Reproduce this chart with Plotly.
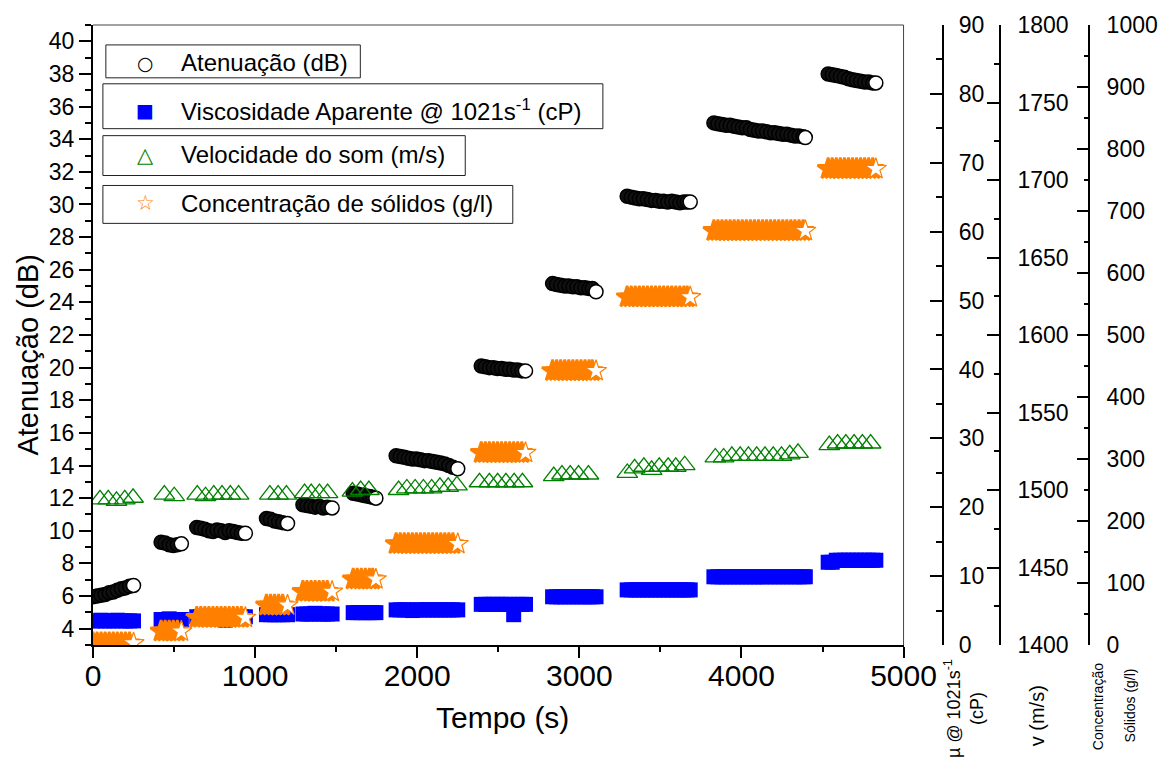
import plotly.graph_objects as go

# ---------------- data ----------------
# shared time stamps (s) of the attenuation / viscosity / concentration records
tempo = [
    0, 25, 50, 75, 100, 125, 150, 175, 200, 225, 250,
    420, 445, 470, 495, 520, 545,
    640, 665, 690, 715, 740, 765, 790, 815, 840, 865, 890, 915, 940,
    1070, 1095, 1120, 1145, 1170, 1200,
    1295, 1320, 1345, 1370, 1395, 1420, 1445, 1475,
    1605, 1630, 1655, 1680, 1705, 1725, 1745,
    1870, 1895, 1920, 1945, 1970, 1995, 2020, 2045, 2070, 2095, 2120, 2145, 2170, 2195, 2220, 2250,
    2395, 2420, 2445, 2470, 2495, 2520, 2545, 2570, 2595, 2620, 2645, 2668,
    2835, 2860, 2885, 2910, 2935, 2960, 2985, 3010, 3035, 3060, 3080, 3103,
    3295, 3320, 3345, 3370, 3395, 3420, 3445, 3470, 3495, 3520, 3545, 3570, 3595, 3620, 3645, 3665, 3684,
    3830, 3855, 3880, 3905, 3930, 3955, 3980, 4005, 4030, 4055, 4080, 4105, 4130, 4155, 4180, 4205,
    4230, 4255, 4280, 4305, 4330, 4355, 4380, 4394,
    4535, 4560, 4585, 4610, 4635, 4660, 4685, 4710, 4735, 4760, 4785, 4810, 4829,
]

atenuacao = [
    5.95, 6.0, 6.05, 6.1, 6.2, 6.25, 6.35, 6.45, 6.5, 6.6, 6.65,
    9.3, 9.25, 9.15, 9.1, 9.15, 9.2,
    10.2, 10.15, 10.1, 10.0, 9.95, 10.05, 10.0, 9.9, 10.0, 9.95, 9.9, 9.85, 9.85,
    10.75, 10.7, 10.6, 10.55, 10.5, 10.45,
    11.6, 11.55, 11.5, 11.45, 11.5, 11.4, 11.45, 11.4,
    12.3, 12.25, 12.2, 12.15, 12.1, 12.05, 12.0,
    14.6, 14.55, 14.5, 14.45, 14.4, 14.4, 14.35, 14.3, 14.3, 14.25, 14.2, 14.15, 14.1, 14.0, 13.9, 13.8,
    20.1, 20.05, 20.0, 20.0, 19.95, 19.95, 19.9, 19.9, 19.85, 19.85, 19.8, 19.8,
    25.15, 25.1, 25.05, 25.0, 25.0, 24.95, 24.95, 24.9, 24.9, 24.85, 24.85, 24.65,
    30.5, 30.45, 30.4, 30.35, 30.35, 30.3, 30.25, 30.25, 30.2, 30.2, 30.15, 30.2, 30.15, 30.1, 30.15, 30.15, 30.15,
    35.0, 34.95, 34.9, 34.85, 34.85, 34.8, 34.75, 34.7, 34.7, 34.6, 34.55, 34.5, 34.5, 34.45, 34.4, 34.4,
    34.35, 34.3, 34.3, 34.25, 34.2, 34.2, 34.15, 34.1,
    38.0, 37.95, 37.9, 37.85, 37.8, 37.7, 37.65, 37.6, 37.55, 37.5, 37.5, 37.45, 37.45,
]

viscosidade = [
    3.5, 3.5, 3.6, 3.5, 3.5, 3.5, 3.6, 3.5, 3.5, 3.5, 3.5,
    3.7, 3.7, 3.8, 3.7, 3.7, 3.7,
    4.1, 4.1, 4.2, 4.1, 4.1, 4.2, 4.1, 3.6, 4.1, 4.1, 4.1, 4.1, 4.1,
    4.4, 4.4, 4.4, 4.4, 4.4, 4.4,
    4.5, 4.5, 4.5, 4.6, 4.5, 4.5, 4.5, 4.5,
    4.7, 4.7, 4.7, 4.7, 4.7, 4.7, 4.7,
    5.1, 5.1, 5.1, 5.1, 5.0, 5.1, 5.1, 5.1, 5.1, 5.1, 5.1, 5.1, 5.1, 5.1, 5.1, 5.1,
    5.9, 5.9, 5.9, 5.9, 5.9, 5.9, 5.9, 5.9, 4.4, 5.9, 5.9, 5.9,
    7.0, 7.0, 7.0, 7.0, 7.0, 7.0, 7.0, 7.0, 7.0, 7.0, 7.0, 7.0,
    8.0, 8.0, 8.0, 8.0, 8.0, 8.0, 8.0, 8.0, 8.0, 8.0, 8.0, 8.0, 8.0, 8.0, 8.0, 8.0, 8.0,
    9.9, 9.9, 9.9, 9.9, 9.9, 9.9, 9.9, 9.9, 9.9, 9.9, 9.9, 9.9, 9.9, 9.9, 9.9, 9.9,
    9.9, 9.9, 9.9, 9.9, 9.9, 9.9, 9.9, 9.9,
    12.0, 12.0, 12.3, 12.3, 12.3, 12.3, 12.3, 12.3, 12.3, 12.3, 12.3, 12.3, 12.3,
]

concentracao = [
    3, 3, 3, 3, 3, 3, 3, 3, 3, 3, 3,
    22, 22, 22, 22, 22, 22,
    44, 44, 44, 44, 44, 44, 44, 44, 44, 44, 44, 44, 44,
    64, 64, 64, 64, 64, 64,
    86, 86, 86, 86, 86, 86, 86, 86,
    106, 106, 106, 106, 106, 106, 106,
    163, 163, 163, 163, 163, 163, 163, 163, 163, 163, 163, 163, 163, 163, 163, 163,
    310, 310, 310, 310, 310, 310, 310, 310, 310, 310, 310, 310,
    442, 442, 442, 442, 442, 442, 442, 442, 442, 442, 442, 442,
    561, 561, 561, 561, 561, 561, 561, 561, 561, 561, 561, 561, 561, 561, 561, 561, 561,
    668, 668, 668, 668, 668, 668, 668, 668, 668, 668, 668, 668, 668, 668, 668, 668,
    668, 668, 668, 668, 668, 668, 668, 668,
    768, 768, 768, 768, 768, 768, 768, 768, 768, 768, 768, 768, 768,
]

# sound-speed records (sparser sampling)
tempo_som = [
    43, 94, 145, 196, 247,
    440, 501,
    643, 694, 745, 796, 847, 898,
    1091, 1142, 1193,
    1305, 1346, 1397, 1447,
    1600, 1651, 1702,
    1885, 1936, 1987, 2038, 2089, 2140, 2191, 2245,
    2384, 2445, 2496, 2547, 2598, 2649,
    2842, 2893, 2944, 2995, 3056,
    3296, 3341, 3398, 3446, 3493, 3548, 3595, 3650,
    3839, 3890, 3941, 3992, 4043, 4094, 4145, 4196, 4247, 4298, 4349,
    4542, 4593, 4644, 4695, 4746, 4797,
]
velocidade_som = [
    1494, 1494, 1493, 1494, 1495,
    1497, 1496,
    1497, 1496, 1497, 1497, 1497, 1497,
    1497, 1497, 1497,
    1498, 1498, 1498, 1498,
    1499, 1500, 1500,
    1500, 1501, 1501, 1501, 1501, 1502, 1502, 1503,
    1505, 1505, 1505, 1505, 1505, 1505,
    1509, 1510, 1510, 1510, 1510,
    1511, 1514, 1515, 1513, 1515, 1515, 1515, 1516,
    1521, 1521, 1522, 1522, 1522, 1522, 1522, 1522, 1522, 1523, 1524,
    1529, 1530, 1530, 1530, 1530, 1530,
]

x_ticks = [0, 1000, 2000, 3000, 4000, 5000]

# ---------------- styling helpers ----------------
FONT = "Liberation Sans, Arial, sans-serif"
ORANGE = "#FF8000"
BLUE = "#0000FF"
GREEN = "#008000"

# last point of every measurement block is drawn hollow (as in the original)
is_last = [i == len(tempo) - 1 or tempo[i + 1] - tempo[i] > 60 for i in range(len(tempo))]
circle_fill = ["white" if l else "#111111" for l in is_last]
star_fill = ["white" if l else ORANGE for l in is_last]
star_line = [1.2 if l else 2.6 for l in is_last]

# pixel -> paper helpers (layout only)
L, R, T, B = 93, 1099, 23, 645
def px_x(p):
    return (p - L) / (R - L)
def px_y(p):
    return (B - p) / (B - T)

fig = go.Figure()

fig.add_trace(go.Scatter(
    x=tempo, y=atenuacao, mode="markers", name="Atenuação (dB)",
    marker=dict(symbol="circle", size=14, color=circle_fill,
                line=dict(color="black", width=1.5)),
    xaxis="x", yaxis="y", showlegend=False))

fig.add_trace(go.Scatter(
    x=tempo, y=viscosidade, mode="markers", name="Viscosidade Aparente @ 1021s-1 (cP)",
    marker=dict(symbol="square", size=15, color=BLUE, line=dict(width=0)),
    xaxis="x", yaxis="y2", showlegend=False))

fig.add_trace(go.Scatter(
    x=tempo_som, y=velocidade_som, mode="markers", name="Velocidade do som (m/s)",
    marker=dict(symbol="triangle-up-open", size=18, color=GREEN,
                line=dict(color=GREEN, width=1.3)),
    xaxis="x", yaxis="y3", showlegend=False))

fig.add_trace(go.Scatter(
    x=tempo, y=concentracao, mode="markers", name="Concentração de sólidos (g/l)",
    marker=dict(symbol="star", size=16, color=star_fill,
                line=dict(color=ORANGE, width=star_line)),
    xaxis="x", yaxis="y4", showlegend=False))

axis_common = dict(showgrid=False, zeroline=False, showline=True, linecolor="black",
                   linewidth=2, tickcolor="black", tickwidth=2)

x_dom_end = px_x(911.7)

fig.update_layout(
    width=1170, height=761,
    margin=dict(l=L, r=1170 - R, t=T, b=761 - B),
    paper_bgcolor="white", plot_bgcolor="white",
    font=dict(family=FONT, color="black"),
    showlegend=False,
    xaxis=dict(domain=[0, x_dom_end], range=[0, 5000], tickmode="array",
               tickvals=x_ticks, ticktext=[str(v) for v in x_ticks],
               ticks="outside", ticklen=11, tickfont=dict(size=30),
               ticklabelstandoff=-8,
               minor=dict(dtick=500, tick0=0, ticks="outside", ticklen=5,
                          tickwidth=2, tickcolor="black"),
               **axis_common),
    yaxis=dict(range=[3, 41], tick0=0, dtick=2, ticks="outside", ticklen=12,
               tickfont=dict(size=23),
               minor=dict(dtick=1, tick0=0, ticks="outside", ticklen=6,
                          tickwidth=2, tickcolor="black"),
               **axis_common),
    yaxis2=dict(overlaying="y", side="right", anchor="free", position=px_x(951.7),
                range=[0, 90], tick0=0, dtick=10, ticks="inside", ticklen=12,
                tickfont=dict(size=23), ticklabelstandoff=10,
                minor=dict(dtick=5, tick0=0, ticks="inside", ticklen=6,
                           tickwidth=2, tickcolor="black"),
                **axis_common),
    yaxis3=dict(overlaying="y", side="right", anchor="free", position=px_x(1009),
                range=[1400, 1800], tick0=1400, dtick=50, ticks="inside", ticklen=12,
                tickfont=dict(size=23), ticklabelstandoff=12,
                minor=dict(dtick=25, tick0=1400, ticks="inside", ticklen=5,
                           tickwidth=2, tickcolor="black"),
                **axis_common),
    yaxis4=dict(overlaying="y", side="right", anchor="free", position=1.0,
                range=[0, 1000], tick0=0, dtick=100, ticks="inside", ticklen=11,
                tickfont=dict(size=23), ticklabelstandoff=12,
                minor=dict(dtick=50, tick0=0, ticks="inside", ticklen=4,
                           tickwidth=2, tickcolor="black"),
                **axis_common),
)

shapes = []
# thin frame on top and right of the main plot
shapes.append(dict(type="line", xref="paper", yref="paper", x0=0, x1=x_dom_end, y0=1, y1=1,
                   line=dict(color="#444", width=1)))
shapes.append(dict(type="line", xref="paper", yref="paper", x0=x_dom_end, x1=x_dom_end, y0=0, y1=1,
                   line=dict(color="#444", width=1)))

# legend boxes (four separate frames)
legend_boxes = [(106, 363, 43, 76), (103, 608, 82, 127), (103, 469, 134, 174), (103, 517, 184, 222)]
for x0, x1, y0, y1 in legend_boxes:
    shapes.append(dict(type="rect", xref="paper", yref="paper",
                       x0=px_x(x0), x1=px_x(x1), y0=px_y(y1), y1=px_y(y0),
                       line=dict(color="#222", width=1), fillcolor="white", layer="above"))
fig.update_layout(shapes=shapes)

ann = []
legend_items = [
    ("○", "black", 19, 61, "Atenuação (dB)"),
    ("■", BLUE, 19, 108, "Viscosidade Aparente @ 1021s<sup>-1</sup> (cP)"),
    ("△", GREEN, 21, 153, "Velocidade do som (m/s)"),
    ("☆", ORANGE, 21, 202, "Concentração de sólidos (g/l)"),
]
for sym, col, ssize, yc, label in legend_items:
    ann.append(dict(xref="paper", yref="paper", x=px_x(146), y=px_y(yc), text=sym,
                    showarrow=False, xanchor="center", yanchor="middle",
                    font=dict(family="DejaVu Sans", size=ssize, color=col)))
    ann.append(dict(xref="paper", yref="paper", x=px_x(180), y=px_y(yc), text=label,
                    showarrow=False, xanchor="left", yanchor="middle",
                    font=dict(family=FONT, size=24, color="black")))

# axis titles
ann.append(dict(xref="paper", yref="paper", x=px_x(507), y=px_y(718), text="Tempo (s)",
                showarrow=False, xanchor="center", yanchor="middle",
                font=dict(family=FONT, size=30)))
ann.append(dict(xref="paper", yref="paper", x=px_x(27), y=px_y(354), text="Atenuação (dB)",
                showarrow=False, xanchor="center", yanchor="middle", textangle=-90,
                font=dict(family=FONT, size=29)))
ann.append(dict(xref="paper", yref="paper", x=px_x(973), y=px_y(709),
                text="µ @ 1021s<sup>-1</sup><br>(cP)",
                showarrow=False, xanchor="center", yanchor="middle", textangle=-90,
                font=dict(family=FONT, size=18)))
ann.append(dict(xref="paper", yref="paper", x=px_x(1046), y=px_y(716), text="v (m/s)",
                showarrow=False, xanchor="center", yanchor="middle", textangle=-90,
                font=dict(family=FONT, size=20)))
ann.append(dict(xref="paper", yref="paper", x=px_x(1107.5), y=px_y(707), text="Concentração",
                showarrow=False, xanchor="center", yanchor="middle", textangle=-90,
                font=dict(family=FONT, size=14)))
ann.append(dict(xref="paper", yref="paper", x=px_x(1140), y=px_y(706), text="Sólidos (g/l)",
                showarrow=False, xanchor="center", yanchor="middle", textangle=-90,
                font=dict(family=FONT, size=14)))
fig.update_layout(annotations=ann)

fig.write_html("out.html")
